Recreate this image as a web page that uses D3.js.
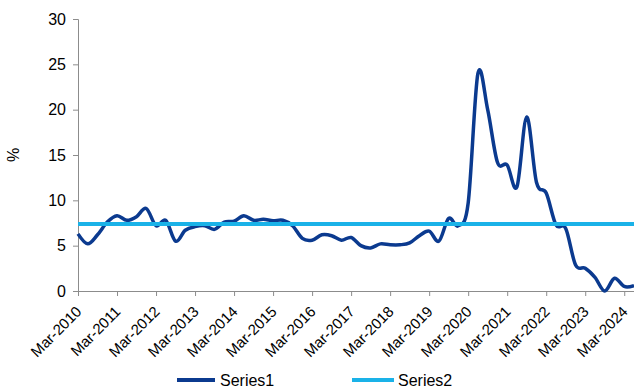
<!DOCTYPE html>
<html>
<head>
<meta charset="utf-8">
<script src="https://cdn.jsdelivr.net/npm/d3@7/dist/d3.min.js"></script>
<style>
  html, body { margin: 0; padding: 0; background: #fff; }
  svg { display: block; font-family: "Liberation Sans", Arial, sans-serif; }
</style>
</head>
<body>
<svg id="chart" width="634" height="388"></svg>
<script>
// Quarterly observations, Mar-2010 to Jun-2024
const quarters = (() => {
  const q = [];
  const months = ["Mar", "Jun", "Sep", "Dec"];
  for (let y = 2010; y <= 2024; y++) {
    for (const m of months) {
      if (y === 2024 && m === "Sep") break;
      q.push(m + "-" + y);
    }
  }
  return q;
})();

const series1 = [
  6.3, 5.2, 6.2, 7.6, 8.3, 7.8, 8.2, 9.1, 7.2, 7.8, 5.5, 6.7,
  7.1, 7.2, 6.8, 7.6, 7.7, 8.3, 7.8, 7.9, 7.75, 7.8, 7.2, 5.8,
  5.6, 6.2, 6.1, 5.6, 5.9, 5.0, 4.75, 5.2, 5.1, 5.1, 5.3, 6.1,
  6.6, 5.5, 8.0, 7.2, 9.7, 24.0, 20.0, 14.2, 13.9, 11.5, 19.2, 12.0,
  10.8, 7.3, 6.9, 2.9, 2.5, 1.5, 0.0, 1.4, 0.5, 0.6
];
const series2Value = 7.4;
const series2 = quarters.map(() => series2Value);

const yTicks = [0, 5, 10, 15, 20, 25, 30];
const xTickLabels = quarters.filter(q => q.startsWith("Mar"));

const seriesNames = ["Series1", "Series2"];
const colors = ["#0b3a8f", "#1ab2e8"];

const svg = d3.select("#chart");
const margin = { left: 78, right: 0, top: 19, bottom: 97 };
const W = 634, H = 388;

const x = d3.scalePoint().domain(quarters).range([margin.left, W - margin.right]);
const y = d3.scaleLinear().domain([0, 30]).range([H - margin.bottom, margin.top]);

const axisColor = "#8c8c8c";

// Y axis
const yAxis = svg.append("g")
  .attr("transform", `translate(${margin.left},0)`)
  .call(d3.axisLeft(y).tickValues(yTicks).tickSize(5).tickPadding(7));
yAxis.select(".domain").attr("stroke", axisColor);
yAxis.selectAll(".tick line").attr("stroke", axisColor);
yAxis.selectAll(".tick text")
  .attr("fill", "#000")
  .style("font-size", "16px")
  .style("font-family", "'Liberation Sans', Arial, sans-serif");

// X axis with rotated date labels
const xAxis = svg.append("g")
  .attr("transform", `translate(0,${y(0)})`)
  .call(d3.axisBottom(x).tickValues(xTickLabels).tickSize(5).tickSizeOuter(0));
xAxis.select(".domain").attr("stroke", axisColor);
xAxis.selectAll(".tick line").attr("stroke", axisColor);
xAxis.selectAll(".tick text")
  .attr("fill", "#000")
  .style("font-size", "15px")
  .style("font-family", "'Liberation Sans', Arial, sans-serif")
  .attr("text-anchor", "end")
  .attr("x", 0)
  .attr("y", 0)
  .attr("dy", "0")
  .attr("transform", "translate(4,21.5) rotate(-45)");

// Y axis title
svg.append("text")
  .attr("transform", `translate(19,${(margin.top + y(0)) / 2}) rotate(-90)`)
  .attr("text-anchor", "middle")
  .style("font-size", "16px")
  .text("%");

// Lines
const line = d3.line()
  .x((d, i) => x(quarters[i]))
  .y(d => y(d))
  .curve(d3.curveCardinal.tension(0));

svg.append("path")
  .datum(series1)
  .attr("fill", "none")
  .attr("stroke", colors[0])
  .attr("stroke-width", 3.5)
  .attr("stroke-linejoin", "round")
  .attr("d", line);

svg.append("path")
  .datum(series2)
  .attr("fill", "none")
  .attr("stroke", colors[1])
  .attr("stroke-width", 4)
  .attr("d", d3.line().x((d, i) => x(quarters[i])).y(d => y(d)));

// Legend
const legend = svg.append("g");
const legendItems = [
  { name: seriesNames[0], color: colors[0], x1: 177, x2: 215, tx: 220 },
  { name: seriesNames[1], color: colors[1], x1: 352, x2: 394, tx: 398 }
];
legendItems.forEach(item => {
  legend.append("line")
    .attr("x1", item.x1).attr("x2", item.x2)
    .attr("y1", 380).attr("y2", 380)
    .attr("stroke", item.color).attr("stroke-width", 4);
  legend.append("text")
    .attr("x", item.tx).attr("y", 386)
    .style("font-size", "16px")
    .text(item.name);
});
</script>
</body>
</html>
